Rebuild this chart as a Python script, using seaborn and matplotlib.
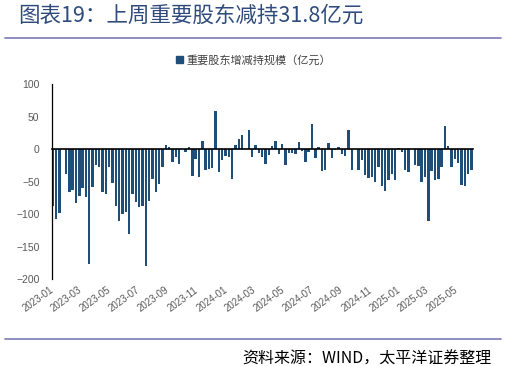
import pandas as pd
import numpy as np
import seaborn as sns
import matplotlib.pyplot as plt
import matplotlib.dates as mdates
from matplotlib.patches import Patch
from matplotlib.lines import Line2D

# weekly net change of major shareholders' holdings (100m yuan)
weeks = pd.date_range("2023-01-06", periods=127, freq="7D")
values = [
    -87, -107, -98, 0, -38, -66, -63, -83, -72, -60,
    -73, -177, -58, -25, -27, -66, -69, -28, -52, -88,
    -110, -99, -96, -131, -69, -81, -89, -87, -180, -80,
    -46, -66, -54, -28, 6, 4, -20, -12, -22, 0,
    -5, 3, -41, -15, -42, 13, -32, -30, -29, 59,
    -35, -16, -11, -12, -46, 7, 15, 22, 0, 29,
    -12, 7, -6, -12, -22, -9, 5, 13, -8, 8,
    -25, -6, -6, -8, 11, -2, -19, -5, 38, -14,
    3, -34, -32, 9, -13, -1, 3, -8, -10, 30,
    -32, 0, -32, -17, -40, -45, -43, -51, -28, -57,
    -65, -48, -38, -48, 2, -5, -32, -35, 0, -25,
    -26, -51, -42, -110, -34, -48, -46, -28, 35, 5,
    -28, -15, -21, -55, -56, -38, -31.8,
]
tick_labels = ["2023-01", "2023-03", "2023-05", "2023-07", "2023-09", "2023-11",
               "2024-01", "2024-03", "2024-05", "2024-07", "2024-09", "2024-11",
               "2025-01", "2025-03", "2025-05"]
y_ticks = [100, 50, 0, -50, -100, -150, -200]

title = "图表19：上周重要股东减持31.8亿元"
legend_label = "重要股东增减持规模（亿元）"
source = "资料来源：WIND，太平洋证券整理"

bar_color = "#1f4e79"

sns.set_style("white")
plt.rcParams["font.family"] = ["Noto Sans CJK SC", "DejaVu Sans"]

df = pd.DataFrame({"x": mdates.date2num(weeks), "value": values})

fig = plt.figure(figsize=(5.07, 3.66), dpi=100)
ax = fig.add_axes([0.1026, 0.237, 0.83, 0.533])

sns.barplot(data=df, x="x", y="value", native_scale=True, color=bar_color,
            saturation=1, width=0.72, errorbar=None, linewidth=0,
            edgecolor="none", ax=ax)

ax.set_ylim(-200, 100)
ax.set_yticks(y_ticks)
ax.set_xlim(df["x"].iloc[0] - 1.5, df["x"].iloc[-1] + 2.7)
tick_pos = mdates.date2num(pd.to_datetime([t + "-06" for t in tick_labels]))
ax.set_xticks(tick_pos)
ax.set_xticklabels(tick_labels)
ax.set_xlabel("")
ax.set_ylabel("")

for s in ["top", "right"]:
    ax.spines[s].set_visible(False)
ax.spines["bottom"].set_position(("data", 0))
ax.spines["bottom"].set_color("black")
ax.spines["bottom"].set_linewidth(1.2)
ax.spines["left"].set_color("black")
ax.spines["left"].set_linewidth(0.9)
ax.tick_params(axis="x", direction="out", length=2.5, width=1, color="black",
               pad=98, labelsize=7, labelcolor="#595959")
ax.tick_params(axis="y", direction="out", length=3, width=0.8, color="black",
               labelsize=7.5, labelcolor="#595959", pad=6)
for lab in ax.get_xticklabels():
    lab.set_rotation(36)
    lab.set_ha("right")
    lab.set_va("center")
    lab.set_rotation_mode("anchor")
    lab.set_family(["Liberation Sans", "DejaVu Sans"])
for lab in ax.get_yticklabels():
    lab.set_family(["Liberation Sans", "DejaVu Sans"])

ax.legend(handles=[Patch(color=bar_color, label=legend_label)], loc="center",
          bbox_to_anchor=(0.5, 0.836), bbox_transform=fig.transFigure,
          frameon=False, fontsize=8, handlelength=0.7, handleheight=0.7,
          handletextpad=0.3, labelcolor="#404040")

fig.text(0.0355, 0.956, title, fontsize=15.5, color="#2f4b7c", va="center", ha="left")
fig.add_artist(Line2D([0.01, 0.988], [0.896, 0.896], color="#7b7bb5", lw=1.2,
                      transform=fig.transFigure))
fig.add_artist(Line2D([0.01, 0.988], [0.074, 0.074], color="#7b7bb5", lw=1.2,
                      transform=fig.transFigure))
fig.text(0.97, 0.019, source, fontsize=11.5, color="black", va="center", ha="right",
         style="italic")

fig.savefig("out.png", dpi=100)
